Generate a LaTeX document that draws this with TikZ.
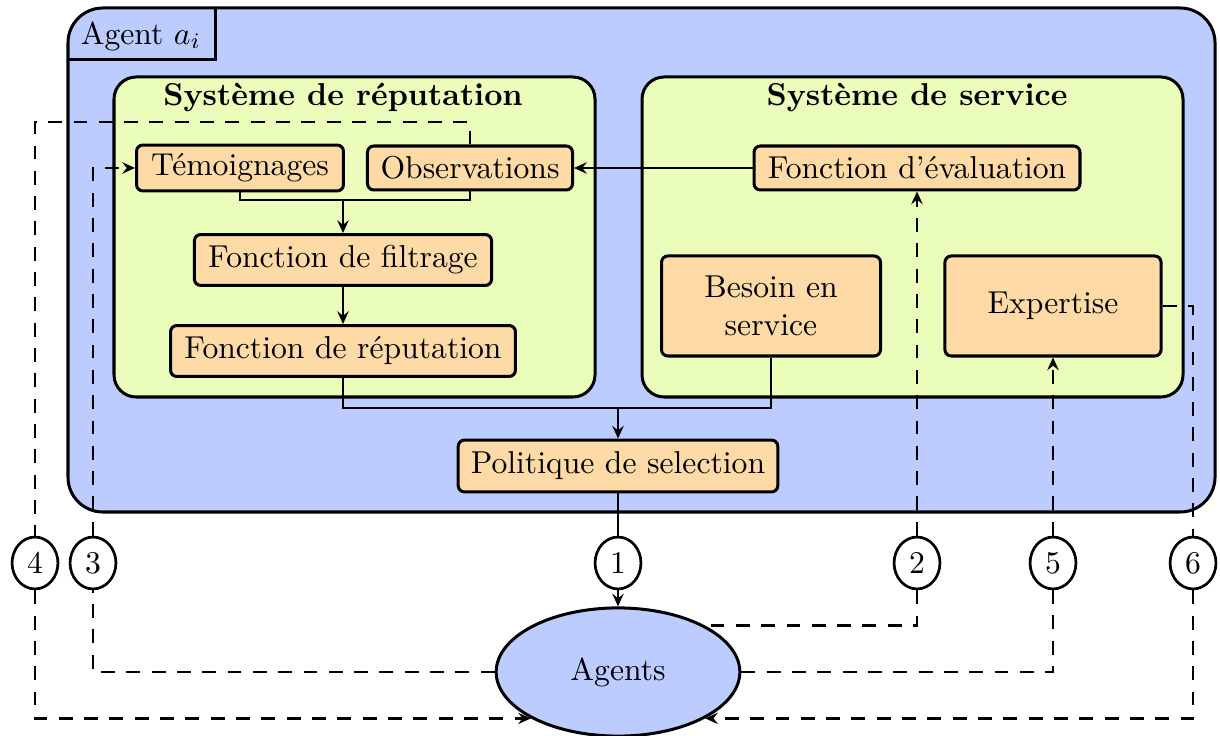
\documentclass[tikz,border=0pt]{standalone}
\usetikzlibrary{arrows.meta,shapes.geometric}
\definecolor{agentblue}{RGB}{189,204,255}
\definecolor{sysgreen}{RGB}{235,253,186}
\definecolor{boxorange}{RGB}{254,218,167}
\begin{document}
\begin{tikzpicture}[x=0.316pt,y=-0.316pt,
  box/.style={draw,line width=0.95pt,fill=boxorange,rounded corners=2pt,inner sep=0pt},
  numnode/.style={draw,ellipse,line width=0.85pt,fill=white,minimum width=14.5pt,minimum height=16.4pt,inner sep=0pt},
  agentsnode/.style={draw,ellipse,line width=0.95pt,fill=agentblue,minimum width=77pt,minimum height=40.5pt,inner sep=0pt},
  conn/.style={line width=0.85pt},
  arr/.style={conn,-{Stealth[length=4pt,width=3.6pt,inset=1.4pt]}},
  dsh/.style={conn,dash pattern=on 4.4pt off 3.6pt},
  dsharr/.style={dsh,-{Stealth[length=4pt,width=3.6pt,inset=1.4pt]}},
  systitle/.style={font=\bfseries}
]
\useasboundingbox (0,0) rectangle (1220,736);
% outer agent box
\draw[line width=0.95pt,fill=agentblue,rounded corners=11pt] (68,8) rectangle (1215,512);
\draw[line width=0.95pt] (215,8) -- (215,60) -- (68,60);
\node (agentlbl) at (141,36) {Agent $a_i$};
% systems
\draw[line width=0.95pt,fill=sysgreen,rounded corners=7pt] (114,77) rectangle (595,397);
\draw[line width=0.95pt,fill=sysgreen,rounded corners=7pt] (642,77) rectangle (1183,397);
\node[systitle] (reptitle) at (343,98) {Système de réputation};
\node[systitle] (sertitle) at (917,98) {Système de service};
% boxes
\node[box,minimum width=65.4pt,minimum height=14.5pt] (tem) at (240,168) {Témoignages};
\node[box,minimum width=64.8pt,minimum height=13.9pt] (obs) at (470,168) {Observations};
\node[box,minimum width=93.9pt,minimum height=16.1pt] (fil) at (343,260) {Fonction de filtrage};
\node[box,minimum width=109pt,minimum height=16.1pt] (rep) at (343,351) {Fonction de réputation};
\node[box,minimum width=103pt,minimum height=13.9pt] (eva) at (917,168) {Fonction d’évaluation};
\node[box,minimum width=69.2pt,minimum height=31.6pt,align=center] (bes) at (771,306) {Besoin en\\service};
\node[box,minimum width=68.3pt,minimum height=31.6pt] (exp) at (1053,306) {Expertise};
\node[box,minimum width=101pt,minimum height=16.4pt] (pol) at (618,466) {Politique de selection};
% numbered nodes
\node[numnode] (n4) at (35,563) {4};
\node[numnode] (n3) at (93,563) {3};
\node[numnode] (n1) at (618,563) {1};
\node[numnode] (n2) at (917,563) {2};
\node[numnode] (n5) at (1053,563) {5};
\node[numnode] (n6) at (1193,563) {6};
\node[agentsnode] (ag) at (618,672) {Agents};
% solid connectors
\coordinate (j1) at (343,200);
\draw[conn] (tem.south) |- (j1) -| (obs.south);
\draw[arr] (j1) -- (fil.north);
\draw[arr] (fil.south) -- (rep.north);
\coordinate (j2) at (618,408);
\draw[conn] (rep.south) |- (j2);
\draw[conn] (bes.south) |- (j2);
\draw[arr] (j2) -- (pol.north);
\draw[arr] (eva.west) -- (obs.east);
\draw[conn] (pol.south) -- (n1.north);
\draw[arr] (n1.south) -- (ag.north);
% dashed connectors
\draw[dsh] (n2.south) |- (ag.north east);
\draw[dsharr] (n2.north) -- (eva.south);
\draw[dsh] (ag.east) -| (n5.south);
\draw[dsharr] (n5.north) -- (exp.south);
\draw[dsh] (exp.east) -| (n6.north);
\draw[dsharr] (n6.south) |- (ag.south east);
\coordinate (c4) at (35,122);
\draw[dsh] (obs.north) |- (c4) -- (n4.north);
\draw[dsharr] (n4.south) |- (ag.south west);
\draw[dsh] (ag.west) -| (n3.south);
\draw[dsharr] (n3.north) |- (tem.west);
\end{tikzpicture}
\end{document}
